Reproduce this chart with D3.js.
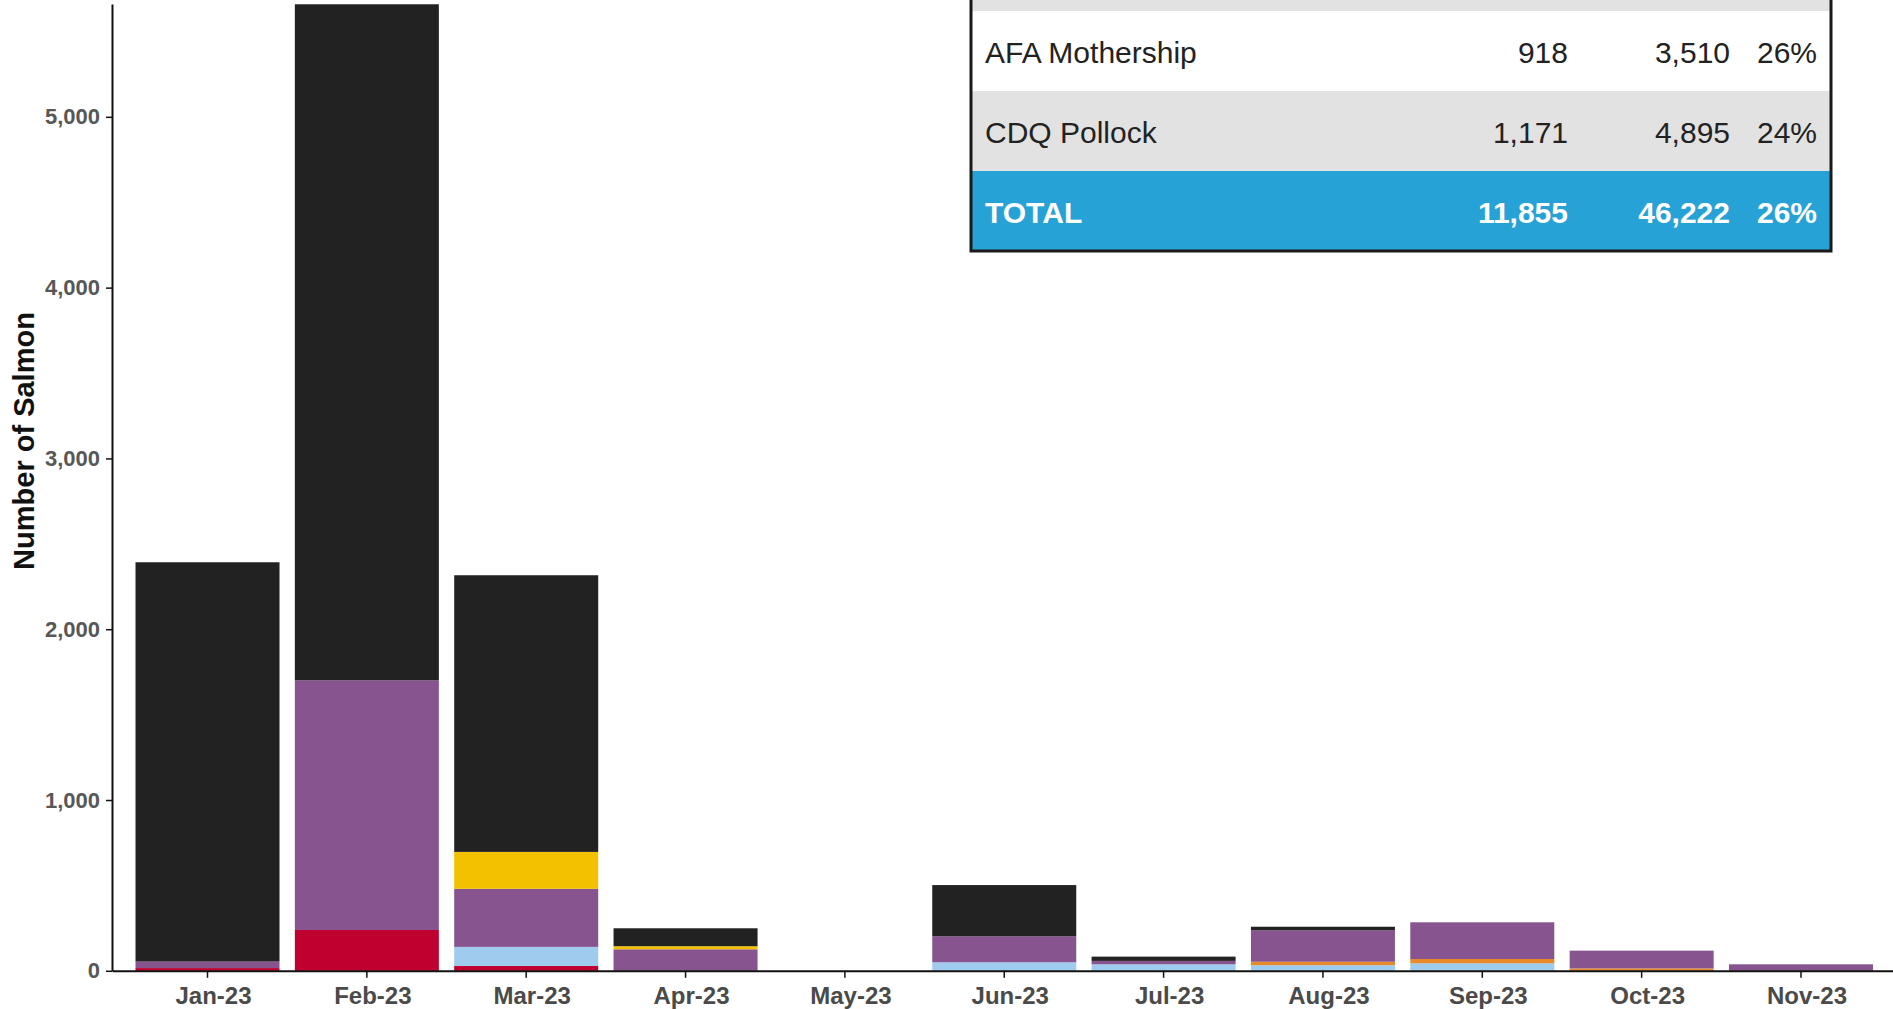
<!DOCTYPE html>
<html>
<head>
<meta charset="utf-8">
<script src="https://cdn.jsdelivr.net/npm/d3@7"></script>
<style>
  html, body { margin: 0; padding: 0; background: #fff; }
  svg { display: block; }
</style>
</head>
<body>
<svg id="chart" width="1893" height="1009"></svg>
<script>
// ---- data ----
const months = ["Jan-23","Feb-23","Mar-23","Apr-23","May-23","Jun-23","Jul-23","Aug-23","Sep-23","Oct-23","Nov-23"];
const seriesKeys = ["Series 1","Series 2","Series 3","Series 4","Series 5","Series 6"];
const seriesColors = ["#c0002f","#9fcbef","#e8892a","#87548f","#f2c200","#222222"];
const series1 = [16, 239, 28, 0, 0, 0, 0, 0, 0, 0, 0];
const series2 = [0, 0, 112, 0, 0, 50, 38, 33, 44, 0, 0];
const series3 = [0, 0, 0, 0, 0, 0, 0, 20, 25, 14, 0];
const series4 = [38, 1462, 340, 126, 0, 152, 20, 185, 215, 104, 38];
const series5 = [0, 0, 216, 18, 0, 0, 0, 0, 0, 0, 0];
const series6 = [2338, 3958, 1620, 105, 0, 300, 25, 20, 0, 0, 0];
const yTicks = [0, 1000, 2000, 3000, 4000, 5000];
const yMax = 5660;
const yTitle = "Number of Salmon";

const tableLabels = ["AFA Mothership", "CDQ Pollock", "TOTAL"];
const tableCatch = ["918", "1,171", "11,855"];
const tableLimit = ["3,510", "4,895", "46,222"];
const tablePct = ["26%", "24%", "26%"];

// ---- build ----
const allSeries = [series1, series2, series3, series4, series5, series6];
const rows = months.map((m, i) => {
  const o = { month: m };
  seriesKeys.forEach((k, j) => o[k] = allSeries[j][i]);
  return o;
});

const svg = d3.select("#chart");
const font = "'Liberation Sans', Arial, sans-serif";

const x = d3.scaleBand().domain(months).range([112, 1896.5]).paddingInner(0.0963).paddingOuter(0.1475);
const y = d3.scaleLinear().domain([0, yMax]).range([970.8, 4.1]);

const stack = d3.stack().keys(seriesKeys);
const stacked = stack(rows);

svg.append("g").selectAll("g").data(stacked).join("g")
  .attr("fill", (d, i) => seriesColors[i])
  .selectAll("rect").data(d => d).join("rect")
  .attr("x", d => x(d.data.month))
  .attr("width", x.bandwidth())
  .attr("y", d => y(d[1]))
  .attr("height", d => Math.max(0, y(d[0]) - y(d[1])));

// y axis
const yAxis = svg.append("g").attr("transform", "translate(112,0)")
  .call(d3.axisLeft(y).tickValues(yTicks).tickFormat(d3.format(",")).tickSize(6).tickPadding(6).tickSizeOuter(0));
yAxis.select(".domain").attr("stroke", "#111").attr("stroke-width", 2);
yAxis.selectAll(".tick line").attr("stroke", "#111").attr("stroke-width", 1.5);
yAxis.selectAll(".tick text").attr("font-family", font).attr("font-weight", "bold")
  .attr("font-size", 22).attr("fill", "#575757");

// x axis
const xAxis = svg.append("g").attr("transform", "translate(0,970.8)")
  .call(d3.axisBottom(x).tickSize(7).tickPadding(9).tickSizeOuter(0));
xAxis.select(".domain").attr("stroke", "#111").attr("stroke-width", 2);
xAxis.selectAll(".tick line").attr("stroke", "#111").attr("stroke-width", 1.5);
xAxis.selectAll(".tick text").attr("font-family", font).attr("font-weight", "bold")
  .attr("font-size", 24).attr("fill", "#4a4a4a").attr("dx", 6);

// y title
svg.append("text")
  .attr("transform", "translate(34,441) rotate(-90)")
  .attr("text-anchor", "middle")
  .attr("font-family", font).attr("font-weight", "bold").attr("font-size", 29)
  .attr("fill", "#111")
  .text(yTitle);

// ---- table ----
const tX0 = 971, tX1 = 1831, rowH = 80, firstRowTop = 11;
const rowFills = ["#ffffff", "#e2e2e2", "#27a2d6"];
const tg = svg.append("g");
// row above (partially visible)
tg.append("rect").attr("x", tX0).attr("y", firstRowTop - rowH).attr("width", tX1 - tX0).attr("height", rowH).attr("fill", "#e2e2e2");
tableLabels.forEach((lab, i) => {
  const top = firstRowTop + i * rowH;
  tg.append("rect").attr("x", tX0).attr("y", top).attr("width", tX1 - tX0).attr("height", rowH).attr("fill", rowFills[i]);
  const isTotal = i === tableLabels.length - 1;
  const base = top + 52;
  const common = t => t.attr("font-family", font).attr("font-size", 30)
    .attr("font-weight", isTotal ? "bold" : "normal").attr("fill", isTotal ? "#ffffff" : "#222222").attr("y", base);
  tg.append("text").call(common).attr("x", 985).text(lab);
  tg.append("text").call(common).attr("x", 1568).attr("text-anchor", "end").text(tableCatch[i]);
  tg.append("text").call(common).attr("x", 1730).attr("text-anchor", "end").text(tableLimit[i]);
  tg.append("text").call(common).attr("x", 1817).attr("text-anchor", "end").text(tablePct[i]);
});
// border
const tBottom = firstRowTop + tableLabels.length * rowH;
tg.append("path")
  .attr("d", `M${tX0},-5 L${tX0},${tBottom} L${tX1},${tBottom} L${tX1},-5`)
  .attr("fill", "none").attr("stroke", "#1a1a1a").attr("stroke-width", 3);
</script>
</body>
</html>
